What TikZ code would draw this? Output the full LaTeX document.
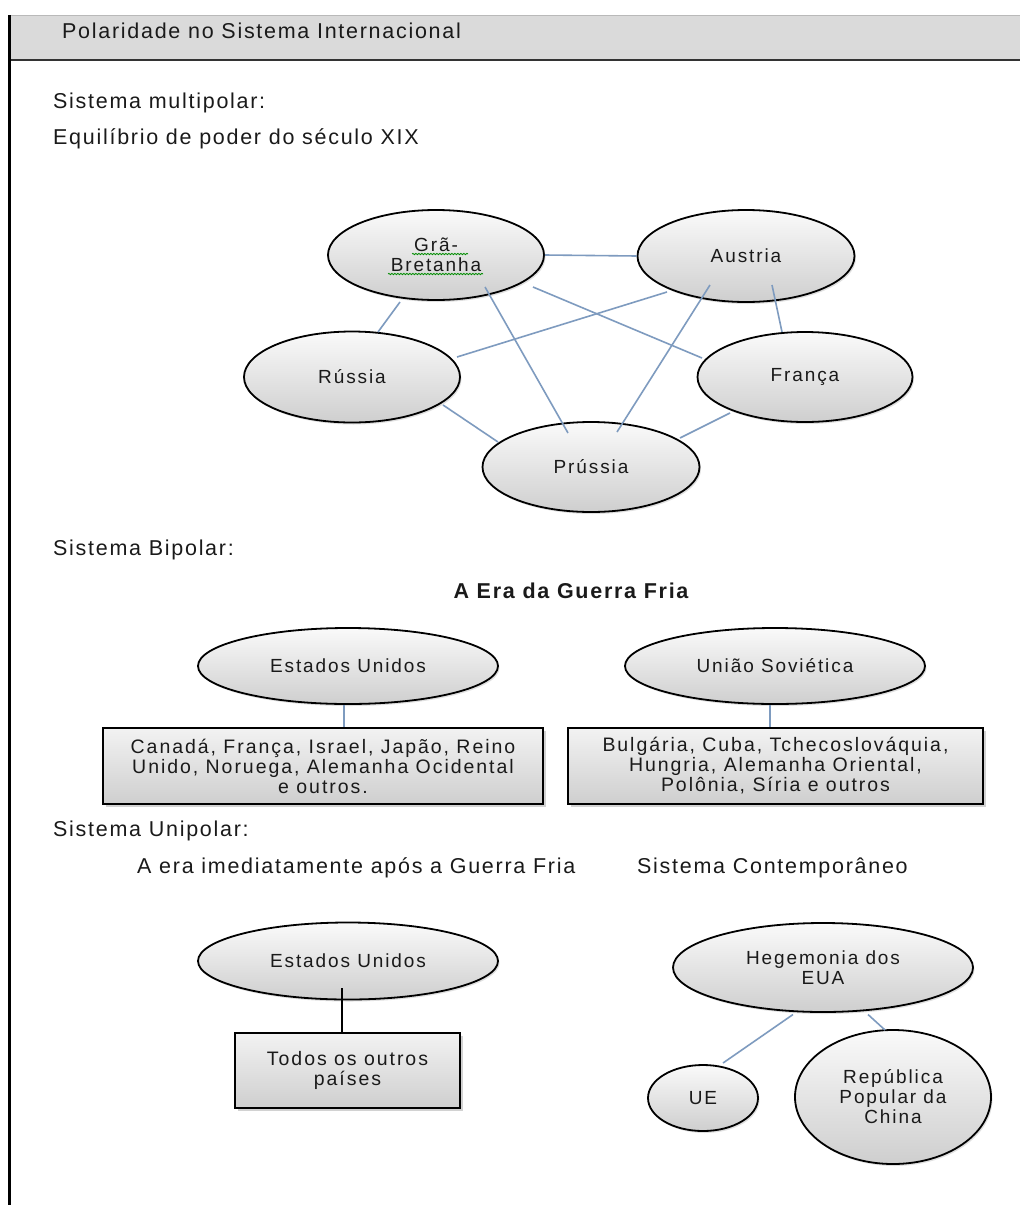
\documentclass[tikz,border=0pt]{standalone}
\usepackage{fontspec}
\setmainfont{Liberation Sans}
\newfontfamily\bodyf{Liberation Sans}[LetterSpace=8]
\newfontfamily\smallf{Liberation Sans}[LetterSpace=10]
\usetikzlibrary{shapes.geometric,shadows,calc,decorations.pathmorphing}
\definecolor{txt}{HTML}{1A1A1A}
\definecolor{linkc}{HTML}{7E9BBF}
\definecolor{hdr}{HTML}{DADADA}
\begin{document}
\begin{tikzpicture}[x=1pt,y=-1pt,
  every node/.style={text=txt},
  lbl/.style={anchor=west,inner sep=0pt,font=\bodyf\fontsize{21.5}{26}\selectfont},
  oval/.style={ellipse,draw=black,line width=1.8pt,inner sep=0pt,
    top color=gray!4,bottom color=gray!38,
    drop shadow={shadow xshift=1.5pt,shadow yshift=-2pt,opacity=0.25},
    align=center,font=\smallf\fontsize{19}{20}\selectfont},
  panel/.style={rectangle,draw=black,line width=1.8pt,inner sep=0pt,
    top color=gray!10,bottom color=gray!38,
    drop shadow={shadow xshift=3pt,shadow yshift=-3pt,opacity=0.35},
    align=center,font=\smallf\fontsize{19.5}{20}\selectfont},
  linkline/.style={draw=linkc,line width=1.6pt},
  wavy/.style={draw=green!55!black,line width=0.8pt,decorate,
    decoration={snake,amplitude=0.7pt,segment length=3pt}}
  ]
\useasboundingbox (0,0) rectangle (1020,1205);
\fill[white] (0,0) rectangle (1020,1205);
% header band and frame
\fill[hdr] (8,15) rectangle (1020,60);
\draw[gray!55,line width=1pt] (8,15) -- (1020,15);
\draw[black!80,line width=2pt] (8,60) -- (1020,60);
\draw[black,line width=3pt] (9,15) -- (9,1205);
\node[lbl] (title) at (62,31) {Polaridade no Sistema Internacional};

% section texts
\node[lbl] (multi) at (53,103) {Sistema multipolar:};
\node[lbl] (equil) at (53,139) {Equilíbrio de poder do século XIX};
\node[lbl] (bipol) at (53,550) {Sistema Bipolar:};
\node[lbl,anchor=center,font=\bodyf\bfseries\fontsize{21.5}{26}\selectfont] (era) at (571,591) {A Era da Guerra Fria};
\node[lbl] (unipol) at (53,831) {Sistema Unipolar:};
\node[lbl] (apos) at (137,868) {A era imediatamente após a Guerra Fria};
\node[lbl] (contemp) at (637,868) {Sistema Contemporâneo};

% multipolar
\node[oval,minimum width=216pt,minimum height=90pt] (gb) at (436,255) {Grã-\\Bretanha};
\node[oval,minimum width=217pt,minimum height=92pt] (au) at (746,256) {Austria};
\node[oval,minimum width=216pt,minimum height=91pt] (ru) at (352,377) {Rússia};
\node[oval,minimum width=215pt,minimum height=90pt] (fr) at (805,377) {França};
\node[oval,minimum width=217pt,minimum height=90pt] (pr) at (591,467) {Prússia};

\draw[wavy] ($(gb)+(-24,-1)$) -- ($(gb)+(32,-1)$);
\draw[wavy] ($(gb)+(-48,19)$) -- ($(gb)+(47,19)$);

\draw[linkline] (gb.east) -- (au.west);
\draw[linkline] ($(gb)+(-36,47)$) -- ($(ru)+(26,-45)$);
\draw[linkline] ($(gb)+(49,32)$) -- ($(pr)+(-23,-34)$);
\draw[linkline] ($(gb)+(97,32)$) -- ($(fr)+(-103,-19)$);
\draw[linkline] ($(au)+(-79,36)$) -- ($(ru)+(105,-20)$);
\draw[linkline] ($(au)+(-36,29)$) -- ($(pr)+(26,-35)$);
\draw[linkline] ($(au)+(26,29)$) -- ($(fr)+(-23,-45)$);
\draw[linkline] ($(ru)+(91,28)$) -- ($(pr)+(-93,-25)$);
\draw[linkline] ($(fr)+(-75,36)$) -- ($(pr)+(89,-29)$);

% bipolar
\node[oval,minimum width=300pt,minimum height=76pt] (us1) at (348,666) {Estados Unidos};
\node[oval,minimum width=300pt,minimum height=76pt] (su) at (775,666) {União Soviética};
\node[panel,minimum width=440pt,minimum height=76pt] (box1) at (323,766)
  {Canadá, França, Israel, Japão, Reino\\Unido, Noruega, Alemanha Ocidental\\e outros.};
\node[panel,minimum width=415pt,minimum height=76pt] (box2) at (775.5,766)
  {Bulgária, Cuba, Tchecoslováquia,\\Hungria, Alemanha Oriental,\\Polônia, Síria e outros};
\draw[linkline] ($(us1.south)+(-4,0)$) -- ($(box1.north -| us1.south)+(-4,0)$);
\draw[linkline] ($(su.south)+(-5,0)$) -- ($(box2.north -| su.south)+(-5,0)$);

% unipolar
\node[oval,minimum width=300pt,minimum height=77pt] (us2) at (348,961) {Estados Unidos};
\node[panel,minimum width=225pt,minimum height=75pt] (box3) at (347.5,1070.5) {Todos os outros\\países};
\draw[black,line width=1.8pt] ($(us2)+(-6,27)$) -- ($(box3.north -| us2)+(-6,0)$);

\node[oval,minimum width=300pt,minimum height=89pt] (heg) at (823,967.5) {Hegemonia dos\\EUA};
\node[oval,minimum width=110pt,minimum height=66pt] (ue) at (703,1098) {UE};
\node[oval,minimum width=196pt,minimum height=134pt] (cn) at (893,1097) {República\\Popular da\\China};
\draw[linkline] ($(heg)+(-30,47)$) -- ($(ue)+(20,-35)$);
\draw[linkline] ($(heg)+(45,47)$) -- ($(cn)+(-8,-67)$);
\end{tikzpicture}
\end{document}
